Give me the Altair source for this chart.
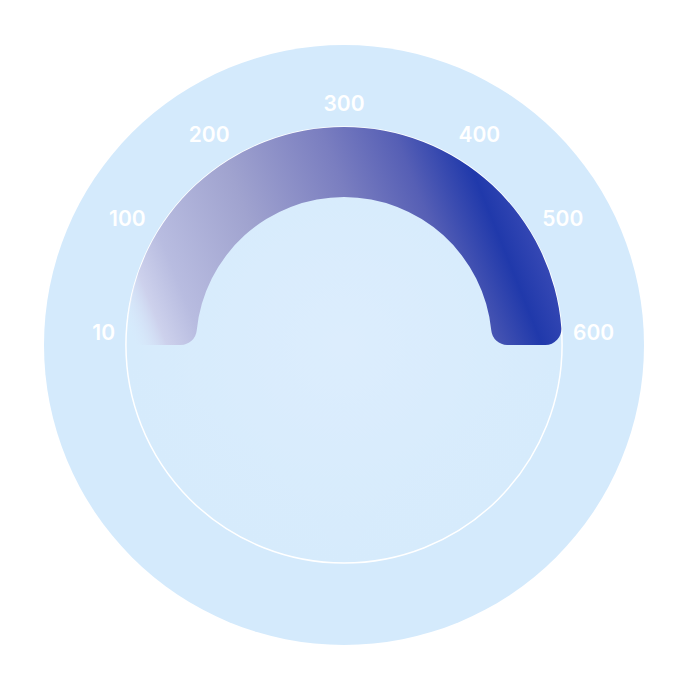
import math
import altair as alt
import pandas as pd

# Gauge data
gauge_min = 0
gauge_max = 600
gauge_value = [600]
tick_labels = [10, 100, 200, 300, 400, 500, 600]

W, H = 688, 688
CX, CY = 344, 345

start = 1.5 * math.pi
end = 2.5 * math.pi
theta_scale = alt.Scale(domain=[gauge_min, gauge_max], range=[start, end])

one = pd.DataFrame({"k": [0]})
gauge_df = pd.DataFrame({"start": [gauge_min], "value": gauge_value})
ticks_df = pd.DataFrame({"tick": tick_labels, "label": [str(t) for t in tick_labels]})

outer = alt.Chart(one).mark_arc(fill="#d4eafc", stroke=None).encode(
    x=alt.value(CX), y=alt.value(CY),
    theta=alt.value(0), theta2=alt.value(2 * math.pi),
    radius=alt.value(300),
)

inner = alt.Chart(one).mark_arc(
    fill=alt.RadialGradient(
        gradient="radial",
        stops=[alt.GradientStop(color="#dcedfd", offset=0),
               alt.GradientStop(color="#d6ebfc", offset=1)],
        x1=0.5, y1=0.5, r1=0, x2=0.5, y2=0.5, r2=0.5,
    ),
    stroke="#ffffff", strokeWidth=1.5,
).encode(
    x=alt.value(CX), y=alt.value(CY),
    theta=alt.value(0), theta2=alt.value(2 * math.pi),
    radius=alt.value(218),
)

gauge = alt.Chart(gauge_df).mark_arc(
    fill=alt.LinearGradient(
        gradient="linear",
        stops=[
            alt.GradientStop(color="rgba(216,231,250,0)", offset=0.0),
            alt.GradientStop(color="#cdd1ec", offset=0.07),
            alt.GradientStop(color="#b8bce0", offset=0.15),
            alt.GradientStop(color="#a0a3cf", offset=0.36),
            alt.GradientStop(color="#7a7ec0", offset=0.6),
            alt.GradientStop(color="#565fb5", offset=0.76),
            alt.GradientStop(color="#2039ab", offset=0.9),
            alt.GradientStop(color="#3a4bb6", offset=1.0),
        ],
        x1=0, y1=0.9, x2=1, y2=0.7,
    ),
    innerRadius=148, outerRadius=218, cornerRadius=16,
).encode(
    x=alt.value(CX), y=alt.value(CY),
    theta=alt.Theta("start:Q", scale=theta_scale, stack=None),
    theta2="value:Q",
)

n = len(tick_labels)
mid = (n + 1) / 2
label_base = alt.Chart(ticks_df).transform_window(idx="row_number()")
label_enc = dict(
    x=alt.value(CX), y=alt.value(CY - 11),
    theta=alt.Theta("idx:Q", scale=alt.Scale(domain=[1, n], range=[start, end]), stack=None),
    radius=alt.value(229),
    text="label:N",
)
text_style = dict(color="#ffffff", font="Inter", fontWeight=600, fontSize=21, baseline="middle")

labels_left = label_base.transform_filter(alt.datum.idx < mid).mark_text(
    align="right", **text_style).encode(**label_enc)
labels_mid = label_base.transform_filter(alt.datum.idx == mid).mark_text(
    align="center", **text_style).encode(**label_enc)
labels_right = label_base.transform_filter(alt.datum.idx > mid).mark_text(
    align="left", **text_style).encode(**label_enc)

chart = alt.layer(outer, inner, gauge, labels_left, labels_mid, labels_right).resolve_scale(
    theta="independent"
).properties(
    width=W, height=H, padding=0, autosize="none", background="#ffffff"
).configure_view(stroke=None)

chart.save("out.html", embed_options={"renderer": "svg", "actions": False})
